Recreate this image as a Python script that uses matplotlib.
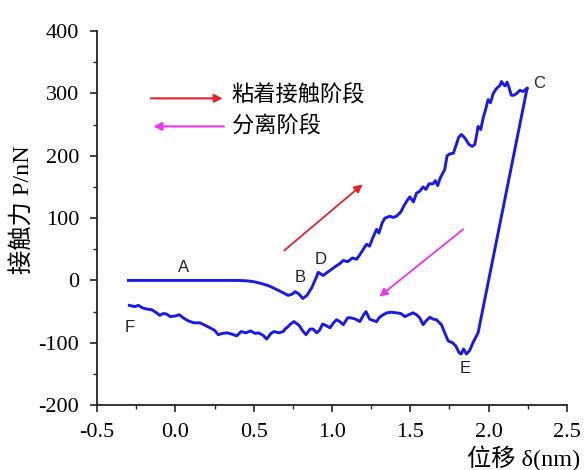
import matplotlib
matplotlib.use("Agg")
import matplotlib.pyplot as plt
from matplotlib.ticker import MultipleLocator

plt.rcParams["axes.unicode_minus"] = False

# Loading (adhesion contact) branch: A -> B -> D -> C
load_x = [-0.30, -0.20, -0.10, 0.00, 0.10, 0.20, 0.30, 0.40, 0.45, 0.50, 0.55, 0.60,
          0.65, 0.69, 0.72, 0.745, 0.765, 0.79, 0.813, 0.84, 0.87, 0.90, 0.912,
          0.944, 0.965, 0.987, 1.02, 1.05, 1.072, 1.10, 1.13, 1.157, 1.18, 1.20,
          1.221, 1.24, 1.26, 1.285, 1.30, 1.32, 1.338, 1.37, 1.39, 1.412, 1.44,
          1.46, 1.48, 1.497, 1.52, 1.54, 1.56, 1.582, 1.60, 1.62, 1.646, 1.66,
          1.675, 1.689, 1.72, 1.735, 1.753, 1.775, 1.79, 1.81, 1.827, 1.85, 1.875,
          1.895, 1.912, 1.925, 1.933, 1.95, 1.965, 1.982, 1.997, 2.012, 2.03,
          2.051, 2.07, 2.083, 2.093, 2.105, 2.118, 2.13, 2.145, 2.161, 2.18, 2.20,
          2.22, 2.246]
load_y = [0, 0, 0, 0, 0, 0, 0, 0, -0.5, -2, -5, -9,
          -15, -20, -24, -22, -18, -22, -29, -24, -12, 5, 13,
          8, 12, 16, 22, 27, 32, 30, 36, 34, 42, 50,
          58, 55, 68, 82, 76, 92, 100, 103, 101, 103, 110,
          120, 128, 134, 126, 140, 143, 150, 146, 155, 155, 160,
          152, 163, 178, 200, 203, 204, 215, 230, 234, 228, 218,
          215, 218, 235, 247, 242, 260, 275, 290, 285, 300,
          308, 312, 319, 315, 312, 318, 310, 297, 297, 300, 305,
          303, 308]

# Unloading (separation) branch: C -> E -> F
unload_x = [2.246, 1.933, 1.90, 1.88, 1.859, 1.84, 1.825, 1.812, 1.79, 1.77,
            1.742, 1.72, 1.699, 1.667, 1.645, 1.625, 1.60, 1.582, 1.56, 1.54,
            1.518, 1.49, 1.465, 1.44, 1.412, 1.38, 1.35, 1.327, 1.30, 1.285,
            1.26, 1.24, 1.217, 1.20, 1.178, 1.15, 1.12, 1.10, 1.072, 1.05,
            1.029, 1.01, 0.987, 0.96, 0.94, 0.92, 0.902, 0.88, 0.86, 0.834,
            0.81, 0.79, 0.757, 0.735, 0.72, 0.70, 0.689, 0.66, 0.63, 0.61,
            0.583, 0.56, 0.53, 0.51, 0.48, 0.45, 0.42, 0.391, 0.36, 0.33,
            0.30, 0.274, 0.25, 0.221, 0.19, 0.157, 0.12, 0.083, 0.05, 0.025,
            0.0, -0.034, -0.055, -0.077, -0.10, -0.12, -0.151, -0.18, -0.21,
            -0.236, -0.26, -0.294]
unload_y = [308, -84, -100, -112, -118, -110, -118, -116, -105, -100,
            -97, -84, -71, -63, -62, -59, -65, -71, -60, -55,
            -52, -55, -58, -53, -52, -51, -52, -55, -60, -66,
            -64, -62, -50, -56, -66, -62, -60, -60, -71, -66,
            -63, -68, -76, -72, -70, -80, -84, -78, -78, -87,
            -80, -72, -66, -70, -74, -78, -82, -84, -82, -85,
            -94, -88, -84, -85, -81, -84, -82, -89, -86, -84,
            -85, -87, -80, -76, -72, -68, -68, -65, -60, -55,
            -57, -58, -54, -53, -56, -52, -47, -46, -44, -40,
            -42, -40]

point_labels = ["A", "B", "D", "C", "E", "F"]
point_x = [0.05, 0.80, 0.925, 2.325, 1.848, -0.29]
point_y = [21, 4, 33, 316, -141, -76]

legend_labels = ["粘着接触阶段", "分离阶段"]

fig = plt.figure(figsize=(5.85, 4.70), dpi=100)
ax = fig.add_axes([0.166, 0.138, 0.803, 0.796])

ax.plot(load_x, load_y, color="#1a1ae6", lw=2.1, solid_joinstyle="round")
ax.plot(unload_x, unload_y, color="#1a1ae6", lw=2.1, solid_joinstyle="round")

ax.set_xlim(-0.5, 2.5)
ax.set_ylim(-200, 400)
ax.xaxis.set_major_locator(MultipleLocator(0.5))
ax.xaxis.set_minor_locator(MultipleLocator(0.25))
ax.yaxis.set_major_locator(MultipleLocator(100))
ax.yaxis.set_minor_locator(MultipleLocator(50))
ax.spines["top"].set_visible(False)
ax.spines["right"].set_visible(False)
for s in ("left", "bottom"):
    ax.spines[s].set_linewidth(1.3)
    ax.spines[s].set_color("#222222")
ax.tick_params(which="major", direction="out", length=5, width=1.2, color="#222222")
ax.tick_params(which="minor", direction="out", length=3, width=1.0, color="#222222")
ax.tick_params(axis="x", which="major", pad=8)
ax.tick_params(axis="y", which="major", pad=8)
for lab in ax.get_xticklabels() + ax.get_yticklabels():
    lab.set_family(["Liberation Serif"])
    lab.set_fontsize(16)

fam = ["Liberation Serif", "Noto Sans CJK SC"]
fig.text(0.039, 0.553, "接触力 P/nN", rotation=90, ha="center", va="center",
         fontsize=17.5, family=fam)
fig.text(0.992, 0.026, "位移 δ(nm)", ha="right", va="center", fontsize=17.5, family=fam)

for t, x, y in zip(point_labels, point_x, point_y):
    ax.text(x, y, t, fontsize=12, family=["Liberation Sans"], ha="center", va="center",
            color="#222222")

# direction arrows
ax.annotate("", xy=(1.195, 154), xytext=(0.695, 48),
            arrowprops=dict(arrowstyle="-|>", color="#e8202a", lw=1.3,
                            mutation_scale=12, shrinkA=0, shrinkB=0))
ax.annotate("", xy=(1.302, -26), xytext=(1.838, 82),
            arrowprops=dict(arrowstyle="-|>", color="#ee33ee", lw=1.3,
                            mutation_scale=12, shrinkA=0, shrinkB=0))

# legend
ax.annotate("", xy=(0.302, 292), xytext=(-0.157, 292),
            arrowprops=dict(arrowstyle="-|>", color="#e8202a", lw=1.5,
                            mutation_scale=12, shrinkA=0, shrinkB=0))
ax.annotate("", xy=(-0.14, 247), xytext=(0.31, 247),
            arrowprops=dict(arrowstyle="-|>", color="#ee33ee", lw=1.5,
                            mutation_scale=12, shrinkA=0, shrinkB=0))
ax.text(0.36, 297, legend_labels[0], fontsize=16, family=["Noto Sans CJK SC"],
        ha="left", va="center")
ax.text(0.36, 248, legend_labels[1], fontsize=16, family=["Noto Sans CJK SC"],
        ha="left", va="center")

fig.savefig("out.png", dpi=100)
